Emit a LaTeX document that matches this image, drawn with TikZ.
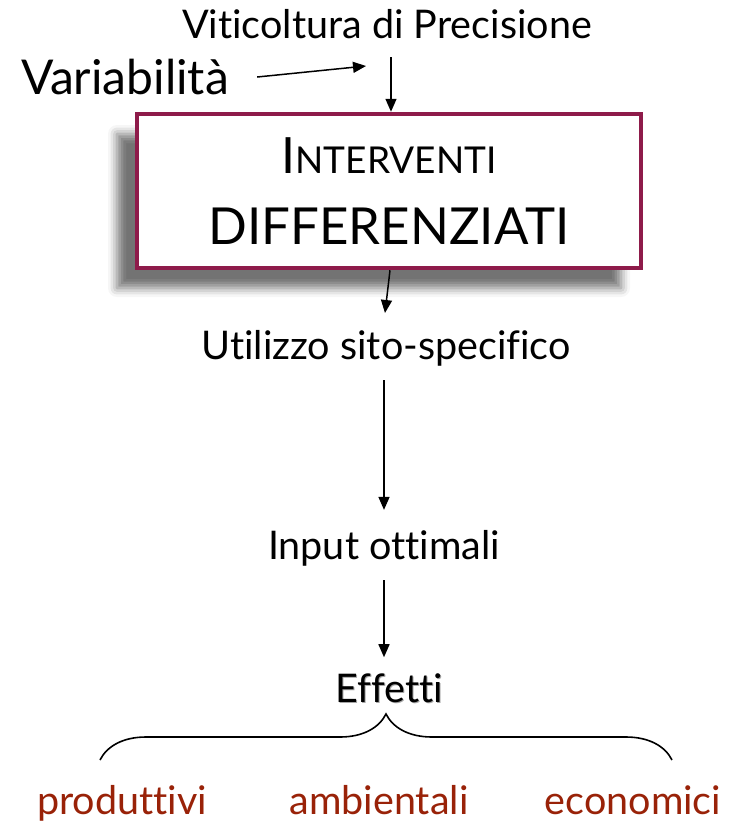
\documentclass[tikz,border=0pt]{standalone}
\usepackage{fontspec}
\setmainfont[Ligatures=CommonOff]{Lato}
\usetikzlibrary{arrows.meta,shadows.blur,decorations.pathreplacing}
\definecolor{vinaccia}{RGB}{142,27,74}
\definecolor{rossoeff}{RGB}{153,34,8}
\tikzset{
  testo/.style={font=\fontsize{39.5}{46}\selectfont, inner sep=0pt},
  freccia/.style={-{Triangle[width=11pt,length=13pt]}, line width=1.5pt},
  effetto/.style={testo, text=rossoeff},
}
\begin{document}
\begin{tikzpicture}[x=1pt,y=-1pt]
  \useasboundingbox (0,0) rectangle (736,823);
  % testi in alto
  \node[testo] (viticoltura) at (387,24) {Viticoltura di Precisione};
  \node[testo, font=\fontsize{48}{56}\selectfont] (variabilita) at (125,77) {Variabilità};
  \coordinate (snodo) at (391,57);
  % riquadro centrale
  \node[draw=vinaccia, line width=4.5pt, fill=white, minimum width=504pt, minimum height=154pt,
        align=center, inner sep=0pt,
        blur shadow={shadow xshift=-20pt, shadow yshift=-20pt, shadow blur radius=9pt, shadow opacity=55}]
        (interventi) at (389,191)
        {{\fontsize{50}{50}\selectfont I}{\fontsize{37}{37}\selectfont NTERVENTI}\\[34pt]
         {\fontsize{51}{51}\selectfont DIFFERENZIATI}};
  \draw[freccia] (variabilita.east) ++(28,0) -- ([xshift=-25pt,yshift=-9pt]snodo);
  \draw[freccia] (snodo) -- (snodo |- interventi.north);
  % catena
  \node[testo] (utilizzo) at (386,348) {Utilizzo sito-specifico};
  \node[testo] (input) at (384,548) {Input ottimali};
  \node[testo, text=black!35] (ombra) at (390.5,689.5) {Effetti};
  \node[testo] (effetti) at (389,688) {Effetti};
  \draw[freccia, shorten >=17pt] ([xshift=1pt]interventi.south) -- ([xshift=-3pt]utilizzo.north);
  \draw[freccia, shorten <=14pt, shorten >=20pt] (utilizzo.south -| input.north) -- (input.north);
  \draw[freccia, shorten <=14pt, shorten >=16pt] (input.south) -- (input.south |- effetti.north);
  % graffa
  \draw[decorate, decoration={brace, amplitude=46pt}, line width=1.6pt] (100,760) -- (672,760);
  \node[effetto] (produttivi) at (122,803) {produttivi};
  \node[effetto] (ambientali) at (379,800) {ambientali};
  \node[effetto] (economici) at (633,800) {economici};
\end{tikzpicture}
\end{document}
